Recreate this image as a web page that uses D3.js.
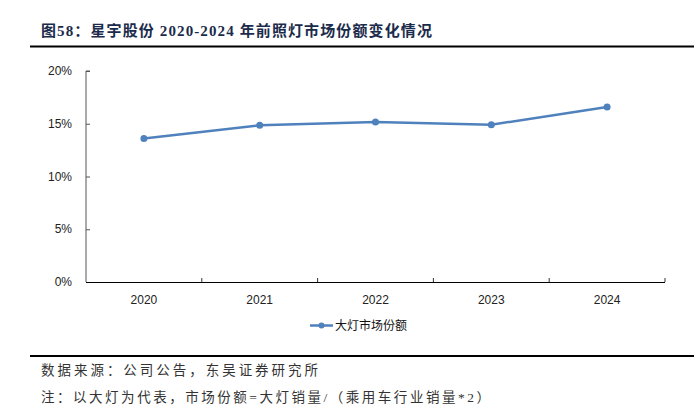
<!DOCTYPE html>
<html><head><meta charset="utf-8">
<script src="https://cdn.jsdelivr.net/npm/d3@7"></script>
<style>
html,body{margin:0;padding:0;background:#fff;}
svg{display:block;}
</style>
</head><body>
<svg id="chart" width="694" height="418"></svg>
<script>
const categories = ["2020","2021","2022","2023","2024"];
const shareValues = [13.6, 14.85, 15.17, 14.91, 16.59];
const yTicks = [0, 5, 10, 15, 20];
const seriesName = "大灯市场份额";
const titleText = "图58：星宇股份 2020-2024 年前照灯市场份额变化情况";
const sourceText = "数据来源：公司公告，东吴证券研究所";
const noteText = "注：以大灯为代表，市场份额=大灯销量/（乘用车行业销量*2）";

const svg = d3.select("#chart");
const sans = "'Liberation Sans','Noto Sans CJK SC',sans-serif";
const serif = "'Liberation Serif','Noto Sans CJK SC',serif";

// Title
svg.append("text").attr("x", 41).attr("y", 36)
  .attr("font-family", serif).attr("font-weight", "bold").attr("font-size", 15)
  .attr("textLength", 391).attr("lengthAdjust", "spacing")
  .attr("fill", "#1b2b4b").text(titleText);
svg.append("rect").attr("x", 30).attr("y", 45.5).attr("width", 664).attr("height", 2).attr("fill", "#000");

const m = {left: 86, right: 665, top: 71, bottom: 282};
const x = d3.scaleBand().domain(categories).range([m.left, m.right]);
const y = d3.scaleLinear().domain([0, 20]).range([m.bottom, m.top]);

// Y axis
const yAxis = d3.axisRight(y).tickValues(yTicks).tickSize(4).tickFormat(() => "");
const yg = svg.append("g").attr("transform", `translate(${m.left},0)`).call(yAxis);
yg.select(".domain").attr("stroke", "#555").attr("d", `M4,${m.top}H0V${m.bottom}`);
yg.selectAll(".tick line").attr("stroke", "#555");
yTicks.forEach(t => {
  svg.append("text").attr("x", 72).attr("y", y(t)).attr("dy", "0.35em")
    .attr("text-anchor", "end").attr("font-family", sans).attr("font-size", 12)
    .attr("fill", "#222").text(t + "%");
});

// X axis
svg.append("line").attr("x1", m.left).attr("x2", m.right).attr("y1", m.bottom + 0.5).attr("y2", m.bottom + 0.5)
  .attr("stroke", "#000").attr("stroke-width", 1.2);
const bounds = categories.map(c => x(c) + x.bandwidth());
bounds.forEach(b => {
  svg.append("line").attr("x1", b).attr("x2", b).attr("y1", m.bottom).attr("y2", m.bottom - 4)
    .attr("stroke", "#333");
});
categories.forEach(c => {
  svg.append("text").attr("x", x(c) + x.bandwidth() / 2).attr("y", 300).attr("dy", "0.35em")
    .attr("text-anchor", "middle").attr("font-family", sans).attr("font-size", 12)
    .attr("fill", "#222").text(c);
});

// Line
const color = "#4f81bd";
const pts = categories.map((c, i) => [x(c) + x.bandwidth() / 2, y(shareValues[i])]);
svg.append("path").attr("d", d3.line()(pts)).attr("fill", "none")
  .attr("stroke", color).attr("stroke-width", 2.5);
svg.selectAll("circle.pt").data(pts).enter().append("circle").attr("class", "pt")
  .attr("cx", d => d[0]).attr("cy", d => d[1]).attr("r", 3.5).attr("fill", color);

// Legend
svg.append("line").attr("x1", 310).attr("x2", 333).attr("y1", 325.5).attr("y2", 325.5)
  .attr("stroke", color).attr("stroke-width", 2.5);
svg.append("circle").attr("cx", 321.5).attr("cy", 325.5).attr("r", 3).attr("fill", color);
svg.append("text").attr("x", 335).attr("y", 325.5).attr("dy", "0.35em")
  .attr("font-family", sans).attr("font-size", 12).attr("fill", "#111").text(seriesName);

// Footer
svg.append("rect").attr("x", 30).attr("y", 355).attr("width", 664).attr("height", 2).attr("fill", "#000");
svg.append("text").attr("x", 41).attr("y", 370).attr("dy", "0.35em")
  .attr("font-family", serif).attr("font-size", 13.5).attr("fill", "#333")
  .attr("textLength", 277).attr("lengthAdjust", "spacing").text(sourceText);
svg.append("text").attr("x", 41).attr("y", 397).attr("dy", "0.35em")
  .attr("font-family", serif).attr("font-size", 13.5).attr("fill", "#333")
  .attr("textLength", 449).attr("lengthAdjust", "spacing").text(noteText);
</script>
</body></html>
